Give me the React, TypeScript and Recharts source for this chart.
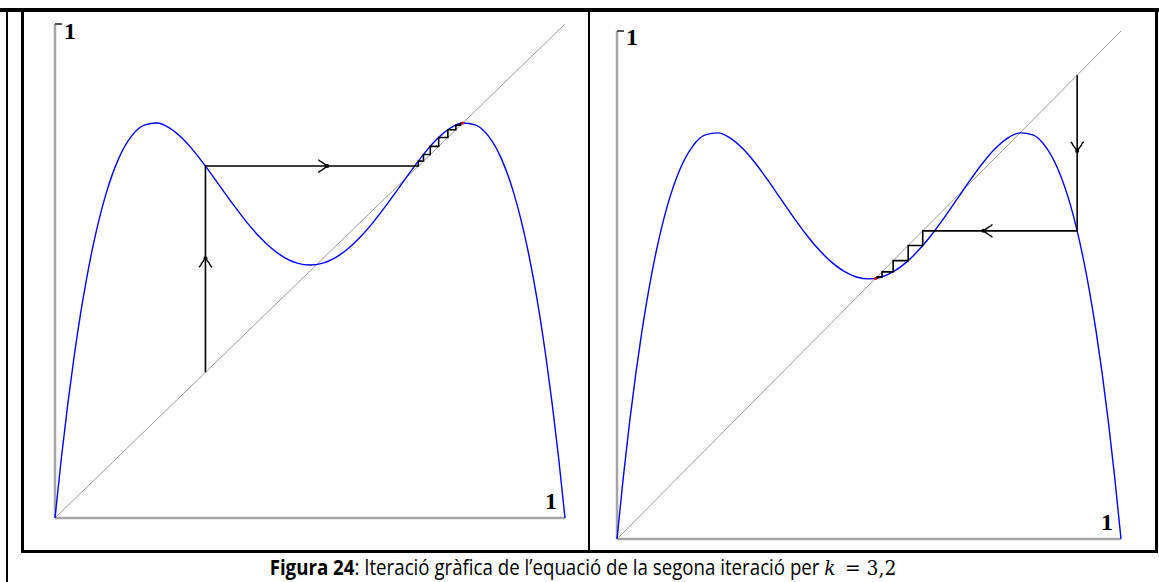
import React from 'react';
import { ComposedChart, Line, XAxis, YAxis, ReferenceLine, ReferenceDot, Scatter } from 'recharts';

// second iterate of the logistic map, k = 3,2
const curveX = [0, 0.0125, 0.025, 0.0375, 0.05, 0.0625, 0.075, 0.1, 0.125, 0.15, 0.175, 0.2, 0.225, 0.25, 0.275, 0.3, 0.325, 0.35, 0.375, 0.4, 0.425, 0.45, 0.475, 0.5,
  0.525, 0.55, 0.575, 0.6, 0.625, 0.65, 0.675, 0.7, 0.725, 0.75, 0.775, 0.8, 0.825, 0.85, 0.875, 0.9, 0.925, 0.9375, 0.95, 0.9625, 0.975, 0.9875, 1];
const curveY = [0, 0.1214, 0.2301, 0.3269, 0.4125, 0.4875, 0.5527, 0.6562, 0.728, 0.7729, 0.7954, 0.7995, 0.7892, 0.768, 0.7391, 0.7053, 0.6694, 0.6337, 0.6, 0.5702, 0.5455, 0.5272, 0.5158, 0.512,
  0.5158, 0.5272, 0.5455, 0.5702, 0.6, 0.6337, 0.6694, 0.7053, 0.7391, 0.768, 0.7892, 0.7995, 0.7954, 0.7729, 0.728, 0.6562, 0.5527, 0.4875, 0.4125, 0.3269, 0.2301, 0.1214, 0];

// successive iterates x(n+1) = f(f(x(n)))
const leftIterates = [0.295, 0.7124, 0.7225, 0.7358, 0.7523, 0.7703, 0.786, 0.7953, 0.7986, 0.7993];
const rightIterates = [0.913, 0.6066, 0.5777, 0.5479, 0.5258, 0.516, 0.5135, 0.5131];

const leftFixed = 0.7995;
const rightFixed = 0.513;

const leftArrows = [
  { x: 0.295, y: 0.526, dir: 'up' },
  { x: 0.534, y: 0.7124, dir: 'right' },
];
const rightArrows = [
  { x: 0.913, y: 0.764, dir: 'down' },
  { x: 0.727, y: 0.6066, dir: 'left' },
];

const curve = curveX.map((x, i) => ({ x, y: curveY[i] }));
const diagonal = [{ x: 0, y: 0 }, { x: 1, y: 1 }];

function staircase(iter: number[]) {
  const pts = [{ x: iter[0], y: iter[0] }];
  for (let i = 1; i < iter.length; i++) {
    pts.push({ x: iter[i - 1], y: iter[i] });
    pts.push({ x: iter[i], y: iter[i] });
  }
  return pts;
}

const rotations: Record<string, number> = { up: 0, right: 90, down: 180, left: 270 };

const Arrow = (props: any) => {
  const { cx, cy, payload } = props;
  return (
    <g transform={`translate(${cx},${cy}) rotate(${rotations[payload.dir]})`}>
      <path d="M-6.5,9 Q-5,8 -4,5.5 L0,0 L4,5.5 Q5,8 6.5,9" fill="none" stroke="#000" strokeWidth={1.4} />
      <circle r={2} fill="#000" />
    </g>
  );
};

const axisGrey = '#a6a6a6';
const labelFont = '"Liberation Serif", "DejaVu Serif", serif';

function Panel({ iterates, fixed, arrows, topLabel, endLabel }: any) {
  return (
    <>
      <XAxis type="number" dataKey="x" domain={[0, 1]} hide />
      <YAxis type="number" dataKey="y" domain={[0, 1]} hide />
      <ReferenceLine segment={[{ x: 0, y: 0 }, { x: 1, y: 0 }]} stroke={axisGrey} strokeWidth={2.5} ifOverflow="visible" />
      <ReferenceLine segment={[{ x: 0, y: 0 }, { x: 0, y: 1 }]} stroke={axisGrey} strokeWidth={2.5} ifOverflow="visible" />
      <ReferenceLine segment={[{ x: 0, y: 1 }, { x: 0.014, y: 1 }]} stroke="#555" strokeWidth={2} ifOverflow="visible" />
      <Line data={diagonal} dataKey="y" type="linear" stroke="#9a9a9a" strokeWidth={1} dot={false} isAnimationActive={false} />
      <Line data={curve} dataKey="y" type="monotone" stroke="#0000ff" strokeWidth={1.4} dot={false} isAnimationActive={false} />
      <Line data={staircase(iterates)} dataKey="y" type="linear" stroke="#000" strokeWidth={1.6} dot={false} isAnimationActive={false} />
      <Scatter data={arrows} dataKey="y" shape={Arrow} isAnimationActive={false} />
      <ReferenceDot x={fixed} y={fixed} r={1.5} fill="#ff0000" stroke="none" />
      <ReferenceDot x={0} y={1} r={0} ifOverflow="visible"
        shape={(p: any) => (
          <text x={p.cx + topLabel[0]} y={p.cy + topLabel[1]} fontFamily={labelFont} fontWeight="bold" fontSize={24} fill="#000">1</text>
        )} />
      <ReferenceDot x={1} y={0} r={0} ifOverflow="visible"
        shape={(p: any) => (
          <text x={p.cx + endLabel[0]} y={p.cy + endLabel[1]} textAnchor="end" fontFamily={labelFont} fontWeight="bold" fontSize={24} fill="#000">1</text>
        )} />
    </>
  );
}

const line = (style: React.CSSProperties) => <div style={{ position: 'absolute', background: '#000', ...style }} />;

const mathFont = '"DejaVu Serif", serif';

export default function App() {
  return (
    <div style={{ position: 'absolute', left: 0, top: 0, width: 1159, height: 582, background: '#fff', overflow: 'hidden' }}>
      {line({ left: 0, top: 8, width: 1159, height: 3.5 })}
      {line({ left: 6, top: 8, width: 2, height: 574 })}
      {line({ left: 21, top: 8, width: 3, height: 545 })}
      {line({ left: 21, top: 550, width: 1137, height: 3 })}
      {line({ left: 1155, top: 8, width: 3, height: 545 })}
      {line({ left: 588, top: 8, width: 1.5, height: 543 })}

      <div style={{ position: 'absolute', left: 0, top: 0 }}>
        <ComposedChart width={590} height={560} margin={{ top: 24, right: 25, bottom: 42, left: 55 }}>
          {Panel({ iterates: leftIterates, fixed: leftFixed, arrows: leftArrows, topLabel: [9, 15], endLabel: [-8, -9] })}
        </ComposedChart>
      </div>
      <div style={{ position: 'absolute', left: 590, top: 0 }}>
        <ComposedChart width={569} height={560} margin={{ top: 31, right: 38, bottom: 21, left: 27 }}>
          {Panel({ iterates: rightIterates, fixed: rightFixed, arrows: rightArrows, topLabel: [9, 14], endLabel: [-8, -9] })}
        </ComposedChart>
      </div>

      <div style={{
        position: 'absolute', left: 583, top: 555, transform: 'translateX(-50%) scaleX(0.89)',
        whiteSpace: 'nowrap', fontFamily: '"Open Sans", sans-serif', fontSize: 21, lineHeight: '24px', color: '#000',
      }}>
        <b>Figura 24</b>: Iteració gràfica de l’equació de la segona iteració per{' '}
        <span style={{ fontFamily: mathFont, fontStyle: 'italic' }}>k</span>
        <span style={{ fontFamily: mathFont }}>{'\u2002'}= 3,2</span>
      </div>
    </div>
  );
}
